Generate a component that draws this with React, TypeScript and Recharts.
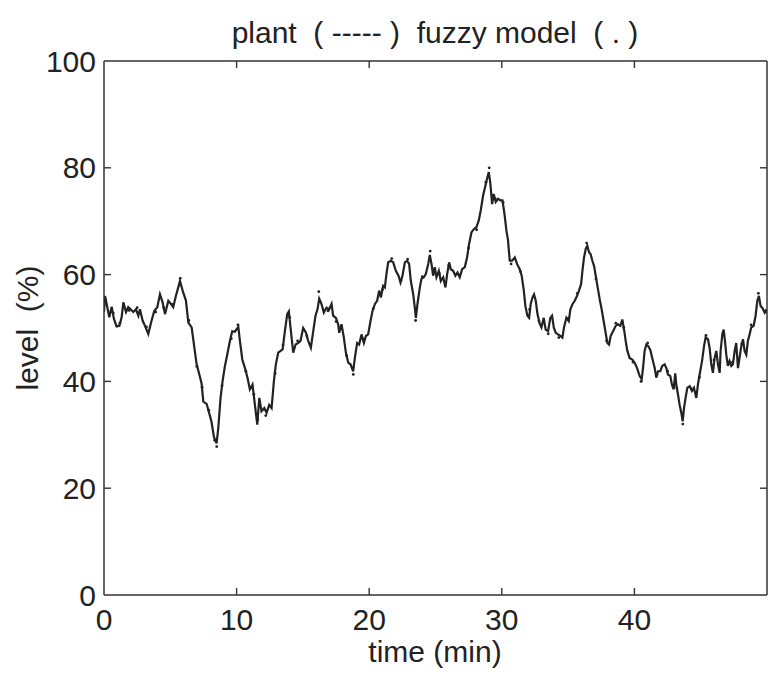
import { ComposedChart, Line, Scatter, XAxis, YAxis, ReferenceLine } from 'recharts';

// plant response (time in min, level in %)
const plantTime = [
  0, 0.08, 0.2, 0.4, 0.58, 0.75, 0.95, 1.16, 1.33, 1.46, 1.66, 1.83, 2.01, 2.21, 2.41, 2.59, 2.71, 2.91, 3.09, 3.34,
  3.59, 3.79, 4.02, 4.22, 4.42, 4.6, 4.85, 5.05, 5.22, 5.42, 5.6, 5.73, 5.93, 6.18, 6.36, 6.61, 6.81, 6.98, 7.18, 7.36,
  7.49, 7.74, 7.94, 8.11, 8.29, 8.49, 8.62, 8.79, 8.94, 9.12, 9.3, 9.5, 9.67, 9.87, 10.13, 10.25, 10.43, 10.63, 10.83, 11.0,
  11.2, 11.38, 11.56, 11.71, 11.88, 12.09, 12.26, 12.46, 12.64, 12.81, 12.96, 13.14, 13.32, 13.47, 13.64, 13.82, 13.94, 14.07, 14.27, 14.45,
  14.65, 14.82, 15.02, 15.23, 15.4, 15.6, 15.78, 15.95, 16.1, 16.23, 16.4, 16.58, 16.78, 16.98, 17.16, 17.28, 17.49, 17.66, 17.74, 17.91,
  18.09, 18.24, 18.42, 18.59, 18.79, 18.92, 19.09, 19.24, 19.42, 19.6, 19.75, 19.92, 20.1, 20.25, 20.43, 20.6, 20.75, 20.88, 21.05, 21.18,
  21.3, 21.43, 21.61, 21.81, 22.01, 22.21, 22.36, 22.51, 22.69, 22.86, 23.01, 23.14, 23.32, 23.44, 23.52, 23.64, 23.82, 23.94, 24.12, 24.27,
  24.45, 24.57, 24.7, 24.82, 24.95, 25.07, 25.25, 25.4, 25.58, 25.75, 25.88, 26.03, 26.15, 26.33, 26.5, 26.66, 26.83, 27.01, 27.21, 27.38,
  27.53, 27.71, 27.89, 28.09, 28.26, 28.41, 28.59, 28.77, 28.89, 29.02, 29.14, 29.27, 29.39, 29.54, 29.72, 29.9, 30.05, 30.2, 30.35, 30.47,
  30.6, 30.78, 30.98, 31.15, 31.35, 31.5, 31.66, 31.78, 31.93, 32.06, 32.18, 32.31, 32.43, 32.56, 32.69, 32.86, 32.99, 33.16, 33.31, 33.49,
  33.66, 33.79, 33.92, 34.07, 34.24, 34.42, 34.57, 34.69, 34.87, 35.05, 35.17, 35.32, 35.5, 35.67, 35.82, 35.98, 36.08, 36.2, 36.33, 36.45,
  36.58, 36.7, 36.83, 36.96, 37.08, 37.23, 37.38, 37.53, 37.68, 37.83, 37.96, 38.09, 38.21, 38.39, 38.59, 38.76, 38.94, 39.09, 39.24, 39.34,
  39.47, 39.64, 39.84, 40.02, 40.2, 40.4, 40.55, 40.65, 40.77, 40.9, 41.05, 41.2, 41.4, 41.53, 41.65, 41.78, 41.95, 42.1, 42.28, 42.41,
  42.53, 42.71, 42.83, 42.96, 43.08, 43.16, 43.29, 43.41, 43.54, 43.64, 43.74, 43.86, 43.99, 44.17, 44.34, 44.49, 44.67, 44.79, 44.92, 45.1,
  45.25, 45.37, 45.55, 45.67, 45.8, 45.92, 46.05, 46.18, 46.3, 46.43, 46.5, 46.63, 46.73, 46.83, 46.93, 47.05, 47.18, 47.31, 47.43, 47.56,
  47.68, 47.81, 47.93, 48.06, 48.19, 48.31, 48.44, 48.56, 48.69, 48.81, 48.99, 49.14, 49.27, 49.39, 49.52, 49.64, 49.82, 49.94,
];
const plantLevel = [
  53, 56, 54.5, 52, 54, 51.7, 50.3, 50.4, 52, 54.8, 53, 53.9, 53.5, 53, 53.5, 52.3, 53.5, 51.4, 50.4, 48.9,
  51.4, 53.2, 53.9, 56.3, 54.8, 52.6, 55.1, 54.5, 53.9, 56, 57.6, 58.8, 57, 55.1, 51, 50.1, 46.4, 43.3, 41.4, 39.6,
  36.2, 35.8, 34, 32.4, 29.6, 28.4, 31.3, 36.9, 40, 42.9, 45.1, 47.6, 49.4, 49.3, 50.2, 47.6, 44.1, 42.5, 40.6, 38.5,
  39.4, 35.6, 31.9, 36.9, 34.4, 35, 34.1, 35.6, 35, 40, 43.2, 45.4, 45.7, 46, 49.4, 52.6, 53.1, 50, 45.4, 46.9,
  47.2, 47.6, 50, 49.1, 47.6, 46.3, 49.4, 52.3, 53.5, 55.5, 54.5, 52.9, 53.8, 53.5, 54.5, 52.3, 51.9, 50.7, 49.1, 50.7,
  48.2, 45.4, 43.5, 43.2, 41.9, 44.4, 47.2, 46.9, 48.8, 47.2, 48.5, 48.8, 51.3, 53.2, 54.5, 55.1, 57, 55.7, 57.9, 57.6,
  60.1, 62.3, 62.6, 62.3, 60.7, 59.8, 58.5, 59.8, 62.3, 62.6, 62, 58.8, 56.3, 53.8, 51.9, 54.5, 57.6, 59.2, 59.5, 60.1,
  62, 63.7, 62, 59.8, 61.4, 59.5, 60.7, 58.8, 59.5, 57.6, 60.1, 62.3, 61, 60.7, 59.8, 60.4, 59.5, 61, 61.4, 63.2,
  65.7, 67.9, 68.5, 68.9, 70.1, 72, 74.8, 76.7, 78, 79.2, 77, 73.2, 75.1, 73.6, 74.2, 73.9, 73.9, 71.4, 68.2, 66.4,
  62.6, 62.6, 63.2, 62, 61, 59.8, 57, 54.1, 52.3, 51.9, 54.5, 55.7, 56.3, 55.1, 52.6, 50.8, 50.1, 51.9, 49.7, 49.4,
  51.9, 52.3, 50.1, 49.1, 48.8, 48.5, 48.2, 50.1, 51.9, 51.3, 53.5, 54.4, 55.1, 56, 57, 58.2, 60.7, 63.2, 64.8, 65.4,
  64.2, 63.8, 62.6, 61.6, 59.8, 57.6, 55.4, 53.5, 51.3, 49.1, 47.2, 46.9, 48.5, 49.4, 50.4, 50.7, 50.4, 51.6, 49.4, 47.6,
  45.7, 44.4, 44.1, 43.5, 42.5, 41, 40.4, 42.5, 45.7, 46.9, 46.6, 45.9, 43.8, 42.5, 40.7, 41.9, 41.9, 42.9, 43.2, 42.5,
  41.3, 41, 39.4, 38.5, 41.5, 39.4, 37.5, 35.6, 34.1, 32.5, 35, 36.9, 38.8, 39.1, 38.2, 38.8, 36.9, 39.4, 41.3, 43.8,
  46.6, 48.2, 47.9, 46.3, 43.2, 41.6, 44.4, 45.7, 43.2, 41.6, 45.7, 48.8, 49.7, 47.6, 45, 42.9, 43.8, 42.9, 43.2, 45.7,
  47.2, 42.5, 44.4, 46.6, 47.9, 45.7, 45, 47.6, 48.8, 50.1, 50.4, 52.3, 55.1, 56, 54.1, 53.8, 52.9, 53.5,
];

// fuzzy model output (dots)
const fuzzyTime = [
  0.1, 0.7, 1.2, 1.9, 2.5, 3.2, 3.9, 4.5, 5.2, 5.75, 6.4, 7.0, 7.4, 7.9, 8.35, 8.5, 8.9, 9.6, 10.1, 10.7,
  11.3, 11.6, 12.2, 12.9, 13.5, 14.0, 14.6, 15.3, 16.2, 16.9, 17.5, 18.3, 18.8, 19.5, 20.3, 21.0, 21.7, 22.4, 22.9, 23.5,
  24.0, 24.6, 25.3, 26.0, 26.8, 27.5, 28.1, 28.8, 29.05, 29.5, 30.1, 30.7, 31.4, 32.1, 32.8, 33.5, 34.3, 35.0, 35.7, 36.4,
  37.1, 37.9, 38.6, 39.2, 39.9, 40.5, 41.0, 41.7, 42.5, 43.2, 43.65, 44.3, 44.9, 45.4, 46.0, 46.7, 47.4, 48.1, 48.8, 49.35, 49.9,
];
const fuzzyLevel = [
  55.2, 52.8, 50.9, 53.3, 53.8, 50.2, 53.0, 53.8, 54.4, 59.3, 51.4, 42.8, 38.9, 34.6, 29.0, 27.8, 39.2, 48.0, 50.6, 41.9,
  37.6, 32.8, 33.6, 41.5, 46.8, 52.0, 47.6, 48.5, 56.8, 53.2, 51.2, 44.8, 41.3, 48.0, 53.6, 57.2, 63.0, 58.9, 62.9, 51.4,
  59.6, 64.4, 60.2, 61.7, 59.9, 65.0, 68.4, 77.3, 80.0, 74.2, 73.5, 62.0, 60.6, 53.5, 51.3, 48.9, 48.2, 51.8, 56.5, 65.9,
  59.2, 47.6, 50.9, 50.1, 43.6, 40.0, 47.2, 41.2, 41.9, 38.8, 32.0, 38.6, 40.8, 48.6, 44.0, 49.2, 43.6, 47.0, 50.6, 56.5, 53.0,
];

const xTicks = [0, 10, 20, 30, 40];
const yTicks = [0, 20, 40, 60, 80, 100];
const xInnerTicks = [10, 20, 30, 40];
const yInnerTicks = [20, 40, 60, 80];

const plantData = plantTime.map((t, i) => ({ t, level: plantLevel[i] }));
const fuzzyData = fuzzyTime.map((t, i) => ({ t, level: fuzzyLevel[i] }));

const FONT = '"Liberation Sans", Arial, sans-serif';
const INK = '#222';
const tickStyle = { fontSize: 30, fill: INK, fontFamily: FONT };
const axisLine = { stroke: '#333', strokeWidth: 1.5 };
// inward tick marks, in data units (about 7px each)
const X_TICK_LEN = 1.3;
const Y_TICK_LEN = 0.53;

const Dot = (props: any) => <circle cx={props.cx} cy={props.cy} r={1.4} fill={INK} />;

export default function App() {
  return (
    <div style={{ position: 'absolute', left: 0, top: 0, width: 770, height: 676, background: '#fff' }}>
      <div style={{ position: 'absolute', left: 0, width: 770, top: 16, lineHeight: '34px', textAlign: 'center', paddingLeft: 100, boxSizing: 'border-box', whiteSpace: 'pre', fontFamily: FONT, fontSize: 30, color: INK }}>
        {'plant  ( ----- )  fuzzy model  ( . )'}
      </div>
      <div style={{ position: 'absolute', left: 28, top: 328, lineHeight: '34px', transform: 'translate(-50%, -50%) rotate(-90deg)', whiteSpace: 'pre', fontFamily: FONT, fontSize: 30, color: INK }}>
        {'level  (%)'}
      </div>
      <div style={{ position: 'absolute', left: 435, top: 652, lineHeight: '34px', transform: 'translate(-50%, -50%)', whiteSpace: 'pre', fontFamily: FONT, fontSize: 30, color: INK }}>
        time (min)
      </div>
      <ComposedChart width={770} height={676} margin={{ top: 60, right: 2, bottom: 80, left: 0 }}>
        <XAxis dataKey="t" type="number" domain={[0, 50]} ticks={xTicks} allowDataOverflow height={1}
          tick={tickStyle} tickSize={0} tickMargin={14} axisLine={axisLine} tickLine={false} />
        <XAxis xAxisId="top" orientation="top" type="number" domain={[0, 50]} ticks={xTicks} allowDataOverflow height={1}
          tick={false} tickLine={false} axisLine={axisLine} />
        <YAxis dataKey="level" type="number" domain={[0, 100]} ticks={yTicks} allowDataOverflow width={104}
          tick={tickStyle} tickSize={0} tickMargin={8} axisLine={axisLine} tickLine={false} />
        <YAxis yAxisId="right" orientation="right" type="number" domain={[0, 100]} ticks={yTicks} allowDataOverflow width={1}
          tick={false} tickLine={false} axisLine={axisLine} />
        {xInnerTicks.map((t) => (
          <ReferenceLine key={`xb-${t}`} segment={[{ x: t, y: 0 }, { x: t, y: X_TICK_LEN }]} stroke="#333" strokeWidth={1.4} />
        ))}
        {xInnerTicks.map((t) => (
          <ReferenceLine key={`xt-${t}`} segment={[{ x: t, y: 100 }, { x: t, y: 100 - X_TICK_LEN }]} stroke="#333" strokeWidth={1.4} />
        ))}
        {yInnerTicks.map((v) => (
          <ReferenceLine key={`yl-${v}`} segment={[{ x: 0, y: v }, { x: Y_TICK_LEN, y: v }]} stroke="#333" strokeWidth={1.4} />
        ))}
        {yInnerTicks.map((v) => (
          <ReferenceLine key={`yr-${v}`} segment={[{ x: 50, y: v }, { x: 50 - Y_TICK_LEN, y: v }]} stroke="#333" strokeWidth={1.4} />
        ))}
        <Line data={plantData} dataKey="level" type="linear" stroke={INK} strokeWidth={2.2} dot={false} isAnimationActive={false} />
        <Scatter data={fuzzyData} dataKey="level" shape={Dot} isAnimationActive={false} />
      </ComposedChart>
    </div>
  );
}
